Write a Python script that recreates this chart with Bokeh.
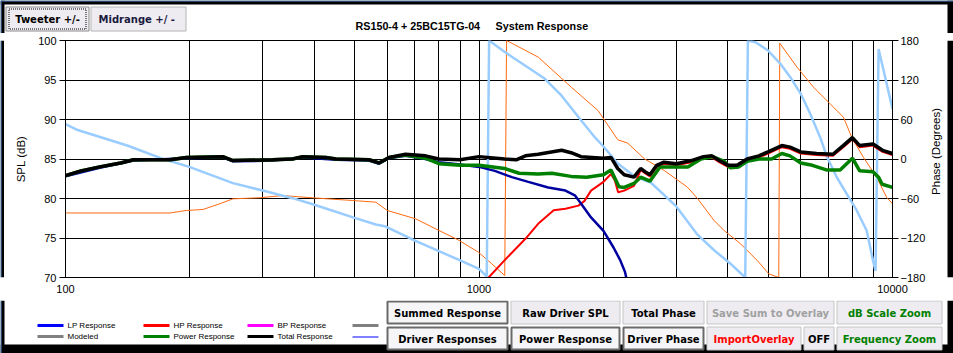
import math
from bokeh.plotting import figure
from bokeh.layouts import column, row
from bokeh.models import Range1d, LinearAxis, FixedTicker
from bokeh.core.properties import value
from bokeh.embed import file_html
from bokeh.resources import INLINE

# ---------------- texts ----------------
title_parts = ["RS150-4 + 25BC15TG-04", "System Response"]
spl_label = "SPL (dB)"
phase_label = "Phase (Degrees)"
spl_ticks = [70, 75, 80, 85, 90, 95, 100]
phase_ticks = [-180, -120, -60, 0, 60, 120, 180]
x_ticks = [100, 1000, 10000]
x_tick_labels = ["100", "1000", "10000"]
x_grid = [100, 200, 300, 400, 500, 600, 700, 800, 900,
          1000, 2000, 3000, 4000, 5000, 6000, 7000, 8000, 9000, 10000]

top_buttons = ["Tweeter +/-", "Midrange  +/ -"]
buttons_row1 = ["Summed Response", "Raw Driver SPL", "Total Phase", "Save Sum to Overlay", "dB Scale Zoom"]
buttons_row2 = ["Driver Responses", "Power Response", "Driver Phase", "ImportOverlay", "OFF", "Frequency Zoom"]
legend_row1 = ["LP Response", "HP Response", "BP Response", ""]
legend_row2 = ["Modeled", "Power Response", "Total Response", ""]

# ---------------- data ----------------
total_f = [100, 109, 121, 136, 146, 179, 196, 240, 254, 317, 354, 375, 426, 451, 542,
           573, 606, 664, 742, 800, 900, 1000, 1154, 1230, 1295, 1390, 1584, 1670, 1765, 2000,
           2085, 2165, 2245, 2370, 2460, 2520, 2590, 2690, 2800, 3000, 3265, 3490, 3660, 3810, 4000,
           4210, 4450, 4750, 5000, 5400, 5650, 6000, 6550, 7180, 7600, 8000, 8330, 8970, 9460, 10000]
total_spl = [82.9, 83.5, 84.0, 84.5, 84.9, 84.9, 85.2, 85.3, 84.8, 84.9, 85.0, 85.3, 85.2, 85.0, 84.9,
             84.5, 85.2, 85.6, 85.4, 85.0, 84.9, 85.3, 85.0, 84.9, 85.4, 85.6, 86.1, 85.8, 85.3, 85.1,
             85.2, 83.8, 83.0, 82.7, 83.8, 83.4, 83.0, 84.2, 84.6, 84.4, 84.8, 85.3, 85.4, 84.8, 84.2,
             84.2, 85.0, 85.4, 85.9, 86.7, 86.5, 85.9, 85.7, 85.6, 86.7, 87.7, 86.7, 86.9, 86.1, 85.7]

power_f = [100, 109, 121, 136, 146, 179, 196, 240, 254, 317, 354, 375, 426, 451, 542,
           573, 606, 664, 742, 800, 900, 1000, 1154, 1250, 1390, 1500, 1670, 1820, 2000, 2085,
           2180, 2245, 2370, 2460, 2590, 2740, 3000, 3200, 3440, 3670, 3920, 4050, 4250, 4450, 4750,
           5100, 5400, 5650, 6000, 6400, 6950, 7470, 8000, 8330, 8970, 9250, 9440, 10000]
power_spl = [82.9, 83.5, 84.0, 84.5, 84.9, 84.9, 85.2, 85.3, 84.8, 84.9, 85.0, 85.3, 85.2, 85.0, 84.9,
             84.5, 85.2, 85.5, 85.1, 84.4, 84.2, 84.2, 83.8, 83.2, 83.1, 83.2, 82.8, 82.7, 83.0, 83.6,
             81.5, 81.4, 81.9, 82.7, 82.2, 84.0, 84.0, 84.0, 85.0, 85.3, 84.7, 83.9, 84.0, 84.7, 85.0,
             85.0, 85.7, 85.4, 84.5, 84.2, 83.6, 83.6, 85.1, 83.5, 83.4, 82.7, 81.8, 81.4]

lp_f = [100, 121, 146, 196, 240, 254, 317, 375, 451, 542, 573, 606, 664, 742, 800,
        900, 1000, 1092, 1201, 1316, 1470, 1618, 1705, 1768, 1866, 2000, 2115, 2195, 2255, 2270]
lp_spl = [82.8, 83.9, 84.8, 85.1, 85.2, 84.7, 84.8, 85.2, 84.9, 84.8, 84.4, 85.1, 85.4, 85.0, 84.6,
          84.3, 84.0, 83.5, 82.7, 82.1, 81.4, 81.0, 80.4, 79.3, 77.6, 75.9, 73.8, 72.2, 70.7, 70.0]

hp_f = [1055, 1154, 1295, 1390, 1516, 1618, 1740, 1800, 1866, 2000,
        2085, 2130, 2170, 2245, 2370, 2460, 2520, 2590, 2690, 2800,
        3000, 3265, 3490, 3660, 3810, 4000, 4210, 4450, 4750, 5000,
        5400, 5650, 6000, 6550, 7180, 7600, 8000, 8330, 8970, 9460, 10000]
hp_spl = [70.0, 72.2, 74.9, 76.8, 78.5, 78.7, 79.1, 79.7, 81.0, 82.1,
          83.1, 82.3, 80.8, 81.0, 81.6, 83.6, 83.2, 82.8, 84.0, 84.4,
          84.2, 84.6, 85.1, 85.2, 84.6, 84.0, 84.0, 84.8, 85.2, 85.7,
          86.5, 86.3, 85.7, 85.5, 85.4, 86.5, 87.5, 86.5, 86.7, 85.9, 85.5]

phase_a_f = [100, 107, 141, 172, 200, 254, 300, 354, 398, 500, 563, 595, 700, 800, 900,
             1000, 1044, 1058, 1156, 1292, 1443, 1582, 1736, 1905, 2000, 2166, 2381, 2602, 3000, 3376,
             3709, 4052, 4404, 4470, 4663, 5000, 5356, 5660, 6000, 6324, 6683, 6950, 7332, 7751, 8193,
             8659, 8970, 9100, 9255, 10000]
phase_a = [53, 44, 20.5, 0.3, -12.4, -36.7, -47.9, -59.5, -69.1, -89.4, -99.5, -102.6, -123.9, -140, -154,
           -167, -178.5, 180, 162.3, 142, 121.8, 96.5, 64.6, 33.1, 19, -7, -26.6, -35.7, -72, -115,
           -139, -158.7, -180, 180, 177.4, 164.8, 144.6, 124.3, 99, 68.7, 33.1, 2.7, -27.7, -52.9, -78.2,
           -108.6, -154, -170, 167, 76]

phase_b_f = [100, 179, 196, 215, 236, 254, 295, 335, 396, 494, 563, 600, 703, 800, 890,
             997, 1073, 1154, 1166, 1391, 1672, 1940, 2166, 2290, 2512, 2806, 3193, 3376, 3702, 3913,
             4291, 4706, 5021, 5308, 5338, 5875, 6443, 7066, 7609, 7967, 8502, 9152, 9674, 10000]
phase_b = [-82, -82, -78.2, -76.7, -68, -60.5, -58.9, -55.5, -59, -63, -65.6, -78.2, -90.9, -108.6, -122.8,
           -141.6, -159, -177, 180, 154.7, 109, 73.7, 29.2, 24, 0.3, -17.5, -42.8, -60, -93.4, -108.6,
           -128.8, -154, -174.4, -180, 176, 139.5, 109, 83.8, 63.5, 33.1, 2.7, -27.7, -58, -68]

# ---------------- layout constants (pixels) ----------------
W, H = 953, 353
TOP_H = 33          # top strip: y 0..33
MID_H = 267         # chart strip: y 33..300
BOT_H = H - TOP_H - MID_H  # bottom strip: y 300..353
LB_W = 4            # left border strip
MAIN_W = 924        # chart figure: x 4..928
RS_W = W - LB_W - MAIN_W   # right strip: x 928..953
FONT = "Liberation Sans"
BF = "DejaVu Sans"
BORDER = "black"
EDGE = "#4a8ccf"


def chrome(w, h, x0, y0):
    f = figure(width=w, height=h, x_range=Range1d(x0, x0 + w), y_range=Range1d(y0 + h, y0),
               x_axis_location=None, y_axis_location=None, toolbar_location=None,
               output_backend="svg", title=None, min_border_left=0, min_border_right=0,
               min_border_top=0, min_border_bottom=0)
    f.grid.visible = False
    f.outline_line_color = None
    f.background_fill_color = "white"
    f.border_fill_color = "white"
    return f


def rect(f, x0, y0, x1, y1, fill=None, line=None, lw=1, dash="solid"):
    f.quad(left=[x0], right=[x1], top=[y0], bottom=[y1],
           fill_color=fill, fill_alpha=1.0 if fill else 0.0,
           line_color=line, line_width=lw, line_dash=dash,
           line_alpha=1.0 if line else 0.0)


def label(f, x, y, s, size="11px", bold=False, color="black", align="left", font=FONT, angle=0.0):
    f.text(x=[x], y=[y], text=[s], text_font=value(font), text_font_size=value(size),
           text_font_style="bold" if bold else "normal", text_color=color,
           text_align=align, text_baseline="middle", angle=angle)


# ---------------- main chart ----------------
p = figure(width=MAIN_W, height=MID_H, x_axis_type="log", x_range=Range1d(100, 10000),
           y_range=Range1d(70, 100), output_backend="svg", toolbar_location=None, title=None,
           min_border_left=61, min_border_right=32, min_border_top=7, min_border_bottom=23)
p.background_fill_color = "white"
p.border_fill_color = "white"
p.outline_line_color = "black"
p.extra_y_ranges = {"phase": Range1d(-180, 180)}

p.xgrid.ticker = FixedTicker(ticks=x_grid)
p.ygrid.ticker = FixedTicker(ticks=spl_ticks)
p.grid.grid_line_color = "black"
p.grid.grid_line_alpha = 1.0
p.grid.grid_line_width = 1

xa = p.xaxis[0]
xa.ticker = FixedTicker(ticks=x_ticks)
xa.major_label_overrides = {t: s for t, s in zip(x_ticks, x_tick_labels)}
xa.major_tick_out = 0
xa.major_tick_in = 0
xa.minor_tick_out = 0
xa.minor_tick_in = 0
xa.major_label_standoff = 7

ya = p.yaxis[0]
ya.ticker = FixedTicker(ticks=spl_ticks)
ya.axis_label = spl_label
ya.major_tick_out = 6
ya.major_tick_in = 4
ya.minor_tick_out = 0
ya.minor_tick_in = 0
ya.major_label_standoff = 3
ya.axis_label_standoff = 8

ra = LinearAxis(y_range_name="phase", ticker=FixedTicker(ticks=phase_ticks))
ra.major_tick_out = 6
ra.major_tick_in = 4
ra.minor_tick_out = 0
ra.minor_tick_in = 0
ra.major_label_standoff = 2
p.add_layout(ra, "right")

for ax in (xa, ya, ra):
    ax.major_label_text_font = FONT
    ax.major_label_text_font_size = "11px"
    ax.major_label_text_color = "black"
    ax.axis_label_text_font = FONT
    ax.axis_label_text_font_size = "11.5px"
    ax.axis_label_text_font_style = "normal"
    ax.axis_label_text_color = "black"
    ax.axis_line_color = "black"
    ax.major_tick_line_color = "black"

p.line(phase_b_f, phase_b, y_range_name="phase", line_color="#ff6a10", line_width=1)
p.line(phase_a_f, phase_a, y_range_name="phase", line_color="#99ccff", line_width=2.5)
p.line(hp_f, hp_spl, line_color="#ff0000", line_width=2)
p.line(lp_f, lp_spl, line_color="#0000a0", line_width=2.5)
p.line(power_f, power_spl, line_color="#008000", line_width=3.5)
p.line(total_f, total_spl, line_color="#000000", line_width=3.5)

# ---------------- left border strip ----------------
lb = chrome(LB_W, MID_H, 0, TOP_H)
rect(lb, 0, TOP_H, LB_W, TOP_H + MID_H, fill=BORDER)
rect(lb, 0, TOP_H, 1, TOP_H + MID_H, fill=EDGE)

# ---------------- right strip (phase title + border) ----------------
rs = chrome(RS_W, MID_H, LB_W + MAIN_W, TOP_H)
rect(rs, 947, TOP_H, W, TOP_H + MID_H, fill=BORDER)
label(rs, 935, 158, phase_label, size="11.5px", align="center", angle=math.pi / 2)

# ---------------- top strip ----------------
top = chrome(W, TOP_H, 0, 0)
rect(top, 0, 0, W, 4, fill=BORDER)
rect(top, 0, 0, 4, TOP_H, fill=BORDER)
rect(top, 947, 0, W, TOP_H, fill=BORDER)
rect(top, 0, 0, W, 1, fill=EDGE)
rect(top, 0, 0, 1, TOP_H, fill=EDGE)
label(top, 355, 25, title_parts[0], size="10.75px", bold=True)
label(top, 495, 25, title_parts[1], size="10.75px", bold=True)
rect(top, 5.5, 6.5, 88.5, 30.5, fill="#eeecf1", line="#8a8a8a")
rect(top, 8.5, 8.5, 85.5, 28.5, line="black", dash="1 1")
label(top, 47, 18.5, top_buttons[0], size="10px", bold=True, align="center", font=BF)
rect(top, 90.5, 6.5, 185.5, 30.5, fill="#eeecf1", line="#b4b4b4")
label(top, 138, 18.5, top_buttons[1], size="10px", bold=True, color="#1a1a40", align="center", font=BF)

# ---------------- bottom strip ----------------
bot = chrome(W, BOT_H, 0, TOP_H + MID_H)
rect(bot, 0, 344, W, H, fill=BORDER)
rect(bot, 0, 300, 4, H, fill=BORDER)
rect(bot, 947, 300, W, H, fill=BORDER)
rect(bot, 0, 300, 1, H, fill=EDGE)

row1_x = [(386, 508), (510, 620), (622, 704), (706, 834), (836, 942)]
row2_x = [(386, 508), (510, 620), (622, 704), (706, 801), (803, 834), (836, 942)]
row1_col = ["black", "black", "black", "#a0a0a0", "#008000"]
row2_col = ["black", "black", "black", "#ff0000", "black", "#008000"]
row1_pressed = [True, False, False, False, False]
row2_pressed = [True, True, True, False, False, False]


def button(x0, x1, y0, y1, lbl, col, pressed):
    if pressed:
        rect(bot, x0 + 1, y0 + 1, x1 - 1, y1 - 1, fill="#f6f6f8", line="#6a6a6a", lw=2)
    else:
        rect(bot, x0 + 0.5, y0 + 0.5, x1 - 0.5, y1 - 0.5, fill="#eeecf1", line="#c4c4c4", lw=1)
    label(bot, (x0 + x1) / 2, (y0 + y1) / 2 + 0.5, lbl, size="10px", bold=True, color=col,
          align="center", font=BF)


for (x0, x1), lbl, col, pr in zip(row1_x, buttons_row1, row1_col, row1_pressed):
    button(x0, x1, 300, 324, lbl, col, pr)
for (x0, x1), lbl, col, pr in zip(row2_x, buttons_row2, row2_col, row2_pressed):
    button(x0, x1, 326, 350, lbl, col, pr)

leg_x = [37, 143, 247, 352]
leg_c1 = ["#0000ff", "#ff0000", "#ff00ff", "#808080"]
leg_c2 = ["#808080", "#008000", "#000000", "#0000ff"]
leg_w2 = [3, 3, 3, 1]
for x0, lbl, c in zip(leg_x, legend_row1, leg_c1):
    bot.segment(x0=[x0], y0=[325], x1=[x0 + 26], y1=[325], line_color=c, line_width=3)
    if lbl:
        label(bot, x0 + 30, 325, lbl, size="8px")
for x0, lbl, c, w in zip(leg_x, legend_row2, leg_c2, leg_w2):
    bot.segment(x0=[x0], y0=[336.5 if w == 1 else 336], x1=[x0 + 26], y1=[336.5 if w == 1 else 336],
                line_color=c, line_width=w)
    if lbl:
        label(bot, x0 + 30, 336, lbl, size="8px")

layout = column(top, row(lb, p, rs, spacing=0), bot, spacing=0)
open("out.html", "w").write(file_html(layout, INLINE))
